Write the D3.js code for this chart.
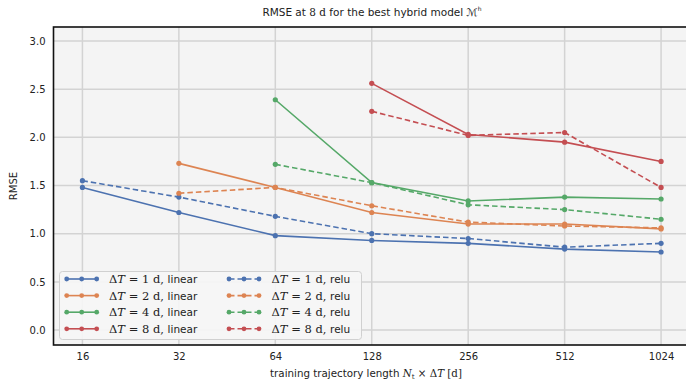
<!DOCTYPE html>
<html><head><meta charset="utf-8">
<script src="https://cdn.jsdelivr.net/npm/d3@7"></script>
<style>
body{margin:0;background:#fff;}
text{font-family:"DejaVu Sans",sans-serif;}
.serif{font-family:"DejaVu Serif","Liberation Serif",serif;}
</style></head>
<body><svg id="c" width="686" height="380"></svg>
<script>
const lengths = [16, 32, 64, 128, 256, 512, 1024];
const yTicks = [0.0, 0.5, 1.0, 1.5, 2.0, 2.5, 3.0];
const dtLabels = ["1", "2", "4", "8"];
const colors = ["#4c72b0", "#dd8452", "#55a868", "#c44e52"];
// linear activation
const linear1 = [1.48, 1.22, 0.98, 0.93, 0.90, 0.84, 0.81];
const linear2 = [null, 1.73, 1.48, 1.22, 1.10, 1.10, 1.05];
const linear4 = [null, null, 2.39, 1.53, 1.34, 1.38, 1.36];
const linear8 = [null, null, null, 2.56, 2.03, 1.95, 1.75];
// relu activation
const relu1 = [1.55, 1.38, 1.18, 1.00, 0.95, 0.86, 0.90];
const relu2 = [null, 1.42, 1.48, 1.29, 1.12, 1.08, 1.06];
const relu4 = [null, null, 1.72, 1.53, 1.30, 1.25, 1.15];
const relu8 = [null, null, null, 2.27, 2.02, 2.05, 1.48];

const linearSeries = [linear1, linear2, linear4, linear8];
const reluSeries = [relu1, relu2, relu4, relu8];

const svg = d3.select("#c");
const L = 53.5, R = 690, T = 27, B = 345;
const x = d3.scaleLog().base(2).domain([Math.pow(2,3.7), Math.pow(2,10.3)]).range([L, R]);
const y = d3.scaleLinear().domain([-0.155, 3.145]).range([B, T]);

svg.append("rect").attr("x", L).attr("y", T).attr("width", R - L).attr("height", B - T).attr("fill", "#f4f4f4");

// grid
svg.append("g").selectAll("line").data(lengths).join("line")
  .attr("x1", d => x(d)).attr("x2", d => x(d)).attr("y1", T).attr("y2", B)
  .attr("stroke", "#d3d3d3").attr("stroke-width", 1.5);
svg.append("g").selectAll("line").data(yTicks).join("line")
  .attr("x1", L).attr("x2", R).attr("y1", d => y(d)).attr("y2", d => y(d))
  .attr("stroke", "#d3d3d3").attr("stroke-width", 1.5);

// axes (labels via d3 axes, no domain/ticks)
const xAxis = svg.append("g").attr("transform", `translate(0,${B})`)
  .call(d3.axisBottom(x).tickValues(lengths).tickFormat(d3.format("d")).tickSize(0).tickPadding(8));
xAxis.select(".domain").remove();
xAxis.selectAll("text").attr("font-family", "DejaVu Sans, sans-serif").attr("font-size", 10).attr("fill", "#222");

const yAxis = svg.append("g").attr("transform", `translate(${L},0)`)
  .call(d3.axisLeft(y).tickValues(yTicks).tickFormat(d3.format(".1f")).tickSize(0).tickPadding(8));
yAxis.select(".domain").remove();
yAxis.selectAll("text").attr("font-family", "DejaVu Serif, serif").attr("font-size", 10).attr("fill", "#222");

// series
const line = d3.line().defined(d => d[1] != null).x(d => x(d[0])).y(d => y(d[1]));
function drawSeries(vals, color, dashed) {
  const pts = lengths.map((l, i) => [l, vals[i]]).filter(d => d[1] != null);
  svg.append("path").datum(pts).attr("d", line).attr("fill", "none")
    .attr("stroke", color).attr("stroke-width", 1.6)
    .attr("stroke-dasharray", dashed ? "5.5,3" : null);
  svg.append("g").selectAll("circle").data(pts).join("circle")
    .attr("cx", d => x(d[0])).attr("cy", d => y(d[1])).attr("r", 2.6).attr("fill", color);
}
linearSeries.forEach((s, i) => drawSeries(s, colors[i], false));
reluSeries.forEach((s, i) => drawSeries(s, colors[i], true));

// frame
svg.append("rect").attr("x", L).attr("y", T).attr("width", R - L).attr("height", B - T)
  .attr("fill", "none").attr("stroke", "#111").attr("stroke-width", 1.6);

// legend
const lg = svg.append("g");
lg.append("rect").attr("x", 59.5).attr("y", 271.5).attr("width", 302).attr("height", 68).attr("rx", 3)
  .attr("fill", "#f6f6f6").attr("fill-opacity", 0.9).attr("stroke", "#d0d0d0").attr("stroke-width", 1);
const cols = [{hx: 66.7, tx: 109, kind: "linear", dashed: false}, {hx: 229, tx: 271.5, kind: "relu", dashed: true}];
cols.forEach(c => {
  dtLabels.forEach((dt, i) => {
    const yy = 279 + i * 16.6;
    lg.append("line").attr("x1", c.hx).attr("x2", c.hx + 30).attr("y1", yy).attr("y2", yy)
      .attr("stroke", colors[i]).attr("stroke-width", 1.6).attr("stroke-dasharray", c.dashed ? "5.5,3" : null);
    [0, 15, 30].forEach(o => lg.append("circle").attr("cx", c.hx + o).attr("cy", yy).attr("r", 2.4).attr("fill", colors[i]));
    const t = lg.append("text").attr("x", c.tx).attr("y", yy + 4).attr("font-size", 11.5).attr("fill", "#222");
    t.append("tspan").attr("class", "serif").text("Δ");
    t.append("tspan").attr("class", "serif").attr("font-style", "italic").text("T");
    t.append("tspan").attr("class", "serif").text(" = " + dt + " d, ");
    t.append("tspan").attr("font-size", 10.5).text(c.kind);
  });
});

// title
const title = svg.append("text").attr("x", 372).attr("y", 16).attr("text-anchor", "middle").attr("font-size", 10.5).attr("fill", "#222");
title.append("tspan").text("RMSE at ");
title.append("tspan").attr("class", "serif").text("8 d");
title.append("tspan").text(" for the best hybrid model ");
title.append("tspan").attr("font-family", "DejaVu Sans, sans-serif").text("ℳ");
title.append("tspan").attr("font-size", 6).attr("dy", -5).text("h");

// x label
const xl = svg.append("text").attr("x", 366).attr("y", 377).attr("text-anchor", "middle").attr("font-size", 10.3).attr("fill", "#222");
xl.append("tspan").text("training trajectory length ");
xl.append("tspan").attr("class", "serif").attr("font-style", "italic").text("N");
xl.append("tspan").attr("class", "serif").attr("font-size", 7).attr("dy", 2).text("t");
xl.append("tspan").attr("class", "serif").attr("dy", -2).text(" × Δ");
xl.append("tspan").attr("class", "serif").attr("font-style", "italic").text("T");
xl.append("tspan").attr("class", "serif").text(" [d]");

// y label
svg.append("text").attr("transform", "translate(17,186) rotate(-90)").attr("text-anchor", "middle")
  .attr("font-size", 10).attr("fill", "#222").text("RMSE");
</script></body></html>
